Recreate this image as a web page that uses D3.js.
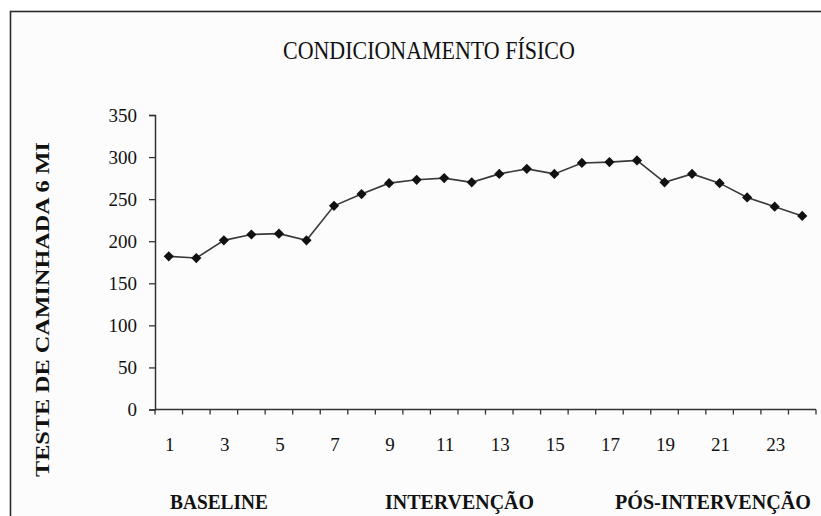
<!DOCTYPE html>
<html>
<head>
<meta charset="utf-8">
<script src="https://cdn.jsdelivr.net/npm/d3@7"></script>
<style>
  html, body { margin: 0; padding: 0; background: #ffffff; }
  svg { display: block; }
  text { font-family: "Liberation Serif", "Times New Roman", serif; fill: #111; }
</style>
</head>
<body>
<svg id="chart" width="821" height="516"></svg>
<script>
// Six-minute walk test across sessions
const sessions = d3.range(1, 25);
const walkValues = [182, 180, 201, 208, 209, 201, 242, 256, 269, 273, 275, 270,
                    280, 286, 280, 293, 294, 296, 270, 280, 269, 252, 241, 230];
const yTicks = [0, 50, 100, 150, 200, 250, 300, 350];
const xTickLabels = [1, 3, 5, 7, 9, 11, 13, 15, 17, 19, 21, 23];
const phases = ["BASELINE", "INTERVENÇÃO", "PÓS-INTERVENÇÃO"];

const svg = d3.select("#chart");

// squeeze or stretch a text horizontally so it spans the given width
function fitWidth(sel, x0, y0, width, rotate) {
  sel.each(function () {
    const natural = this.getComputedTextLength();
    const sx = width / natural;
    const r = rotate ? ` rotate(${rotate})` : "";
    d3.select(this).attr("transform", `translate(${x0},${y0})${r} scale(${sx},1)`);
  });
}

// outer frame
svg.append("rect")
  .attr("x", 10.5).attr("y", 11.5)
  .attr("width", 900).attr("height", 600)
  .attr("fill", "#fcfcfc")
  .attr("stroke", "#2a2a2a").attr("stroke-width", 1.6);

const x = d3.scaleBand().domain(sessions).range([155, 816]);
const y = d3.scaleLinear().domain([0, 350]).range([409.5, 115]);

// y axis
const yAxis = svg.append("g")
  .attr("transform", "translate(155,0)")
  .call(d3.axisLeft(y).tickValues(yTicks).tickSize(6).tickPadding(12));
yAxis.select(".domain").attr("stroke", "#333").attr("stroke-width", 1.5);
yAxis.selectAll(".tick line").attr("stroke", "#333").attr("stroke-width", 1.3);
yAxis.selectAll(".tick text")
  .attr("font-family", "Liberation Serif")
  .attr("font-size", 19)
  .attr("fill", "#111");

// x axis: ticks on category boundaries, labels on every other category
const xAxisG = svg.append("g").attr("transform", "translate(0,409.5)");
xAxisG.append("line")
  .attr("x1", 155).attr("x2", 816)
  .attr("stroke", "#333").attr("stroke-width", 1.5);
const boundaries = sessions.map(s => x(s)).concat([x.range()[1]]);
xAxisG.selectAll("line.tk").data(boundaries).join("line")
  .attr("class", "tk")
  .attr("x1", d => d).attr("x2", d => d)
  .attr("y1", 0).attr("y2", 5)
  .attr("stroke", "#333").attr("stroke-width", 1.3);
xAxisG.selectAll("text").data(xTickLabels).join("text")
  .attr("x", d => x(d) + x.bandwidth() / 2 + 1)
  .attr("y", 41)
  .attr("text-anchor", "middle")
  .attr("font-size", 19)
  .text(d => d);

// series line and diamond markers
const cx = (d, i) => x(sessions[i]) + x.bandwidth() / 2;
svg.append("path")
  .datum(walkValues)
  .attr("fill", "none")
  .attr("stroke", "#3a3a3a")
  .attr("stroke-width", 1.6)
  .attr("d", d3.line().x(cx).y(d => y(d)));

svg.selectAll("path.pt").data(walkValues).join("path")
  .attr("class", "pt")
  .attr("transform", (d, i) => `translate(${cx(d, i)},${y(d)}) rotate(45)`)
  .attr("d", d3.symbol(d3.symbolSquare, 52))
  .attr("fill", "#111");

// title
svg.append("text")
  .attr("font-size", 25)
  .text("CONDICIONAMENTO FÍSICO")
  .call(fitWidth, 283, 58.5, 292);

// y axis title
svg.append("text")
  .attr("font-size", 18).attr("font-weight", "bold")
  .text("TESTE DE CAMINHADA 6 MI")
  .call(fitWidth, 49, 477, 335, -90);

// phase labels under the axis
const phaseX = [[170, 98], [385, 149], [615, 196]];
svg.selectAll("text.phase").data(phases).join("text")
  .attr("class", "phase")
  .attr("font-size", 22).attr("font-weight", "bold")
  .text(d => d)
  .each(function (d, i) {
    d3.select(this).call(fitWidth, phaseX[i][0], 509, phaseX[i][1]);
  });
</script>
</body>
</html>
